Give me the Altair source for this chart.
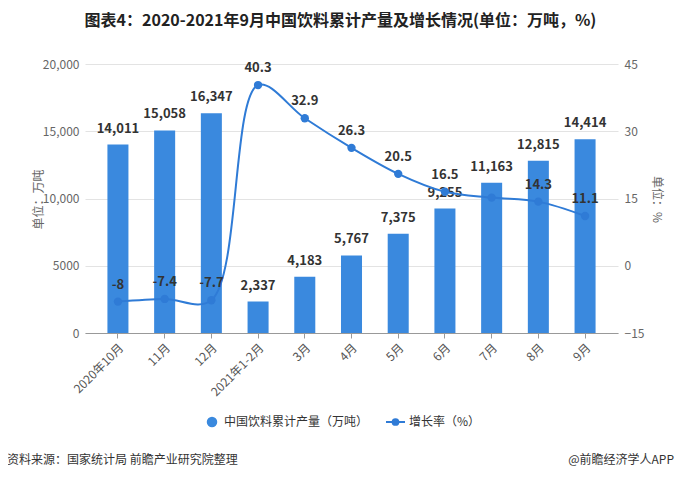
import altair as alt
import pandas as pd

categories = ["2020年10月", "11月", "12月", "2021年1-2月", "3月", "4月", "5月", "6月", "7月", "8月", "9月"]
output = [14011, 15058, 16347, 2337, 4183, 5767, 7375, 9255, 11163, 12815, 14414]
growth = [-8, -7.4, -7.7, 40.3, 32.9, 26.3, 20.5, 16.5, 15.2, 14.3, 11.1]
growth_labels = ["-8", "-7.4", "-7.7", "40.3", "32.9", "26.3", "20.5", "16.5", "", "14.3", "11.1"]

FONT = "Noto Sans CJK SC"
BAR_COLOR = "#3a89de"
LINE_COLOR = "#2f7bd6"

df = pd.DataFrame({"cat": categories, "output": output, "growth": growth, "glabel": growth_labels})

xenc = alt.X("cat:N", sort=categories, title=None,
             scale=alt.Scale(paddingInner=0.55, paddingOuter=0.48),
             axis=alt.Axis(labelAngle=-45, labelFont=FONT, labelFontSize=12, labelColor="#555",
                           domainColor="#999", tickColor="#999", tickSize=5, labelPadding=4))
xplain = alt.X("cat:N", sort=categories)

base = alt.Chart(df)
YDOM_L = [0, 20000]
YDOM_R = [-15, 45]

bars = base.mark_bar(color=BAR_COLOR).encode(
    x=xenc,
    y=alt.Y("output:Q", scale=alt.Scale(domain=YDOM_L),
            axis=alt.Axis(values=[0, 5000, 10000, 15000, 20000],
                          labelExpr="datum.value >= 10000 ? format(datum.value, ',') : datum.value",
                          title="单位：万吨", titleFont=FONT, titleFontSize=12, titleFontWeight="normal",
                          titleColor="#666", titleX=-40, titleY=135, titleAngle=-90,
                          labelFont=FONT, labelFontSize=12, labelColor="#666",
                          gridColor="#e3e3e3", domain=False, ticks=False, labelPadding=6)),
)
bar_text = base.mark_text(dy=-9, baseline="bottom", font=FONT, fontSize=13, fontWeight="bold",
                          color="#333").encode(
    x=xplain,
    y=alt.Y("output:Q", scale=alt.Scale(domain=YDOM_L), axis=None),
    text=alt.Text("output:Q", format=","),
)

line = base.mark_line(color=LINE_COLOR, strokeWidth=2, interpolate="catmull-rom").encode(
    x=xplain,
    y=alt.Y("growth:Q", scale=alt.Scale(domain=YDOM_R),
            axis=alt.Axis(orient="right", values=[-15, 0, 15, 30, 45], grid=False,
                          title="单位：%", titleFont=FONT, titleFontSize=12, titleFontWeight="normal",
                          titleColor="#666", titleX=31, titleY=135, titleAngle=90,
                          labelFont=FONT, labelFontSize=12, labelColor="#666",
                          domain=False, ticks=False, labelPadding=6)),
)
points = base.mark_point(filled=True, color=LINE_COLOR, size=70, opacity=1).encode(
    x=xplain,
    y=alt.Y("growth:Q", scale=alt.Scale(domain=YDOM_R), axis=None),
)
line_text = base.mark_text(dy=-10, baseline="bottom", font=FONT, fontSize=13, fontWeight="bold",
                           color="#333").encode(
    x=xplain,
    y=alt.Y("growth:Q", scale=alt.Scale(domain=YDOM_R), axis=None),
    text="glabel:N",
)

# legend
one = pd.DataFrame({"a": [1]})
leg_circle = alt.Chart(one).mark_point(filled=True, color=BAR_COLOR, size=110, opacity=1).encode(
    x=alt.value(127), y=alt.value(358))
leg_text1 = alt.Chart(pd.DataFrame({"t": ["中国饮料累计产量（万吨）"]})).mark_text(
    align="left", baseline="middle", font=FONT, fontSize=12, color="#333").encode(
    x=alt.value(139), y=alt.value(358), text="t:N")
leg_line = alt.Chart(one).mark_rule(color=LINE_COLOR, strokeWidth=2).encode(
    x=alt.value(301), x2=alt.value(320), y=alt.value(358))
leg_dot = alt.Chart(one).mark_point(filled=True, color=LINE_COLOR, size=60, opacity=1).encode(
    x=alt.value(310.5), y=alt.value(358))
leg_text2 = alt.Chart(pd.DataFrame({"t": ["增长率（%）"]})).mark_text(
    align="left", baseline="middle", font=FONT, fontSize=12, color="#333").encode(
    x=alt.value(324), y=alt.value(358), text="t:N")

# footer
foot_left = alt.Chart(pd.DataFrame({"t": ["资料来源：国家统计局 前瞻产业研究院整理"]})).mark_text(
    align="left", baseline="middle", font=FONT, fontSize=12, color="#333").encode(
    x=alt.value(-78), y=alt.value(396), text="t:N")
foot_right = alt.Chart(pd.DataFrame({"t": ["@前瞻经济学人APP"]})).mark_text(
    align="right", baseline="middle", font=FONT, fontSize=12, color="#333").encode(
    x=alt.value(589), y=alt.value(396), text="t:N")

chart = alt.layer(
    bars, bar_text, line, points, line_text,
    leg_circle, leg_text1, leg_line, leg_dot, leg_text2, foot_left, foot_right
).resolve_scale(y="independent").properties(
    width=533, height=269,
    autosize=alt.AutoSizeParams(type="none"),
    padding={"left": 77, "top": 56, "right": 58, "bottom": 141},
    background="white",
    title=alt.TitleParams("图表4：2020-2021年9月中国饮料累计产量及增长情况(单位：万吨，%)",
                          font=FONT, fontSize=16, fontWeight="bold", color="#222",
                          anchor="middle", frame="group", dx=-11, offset=29),
).configure_view(stroke=None)

chart.save("out.html", embed_options={"renderer": "svg", "actions": False})
